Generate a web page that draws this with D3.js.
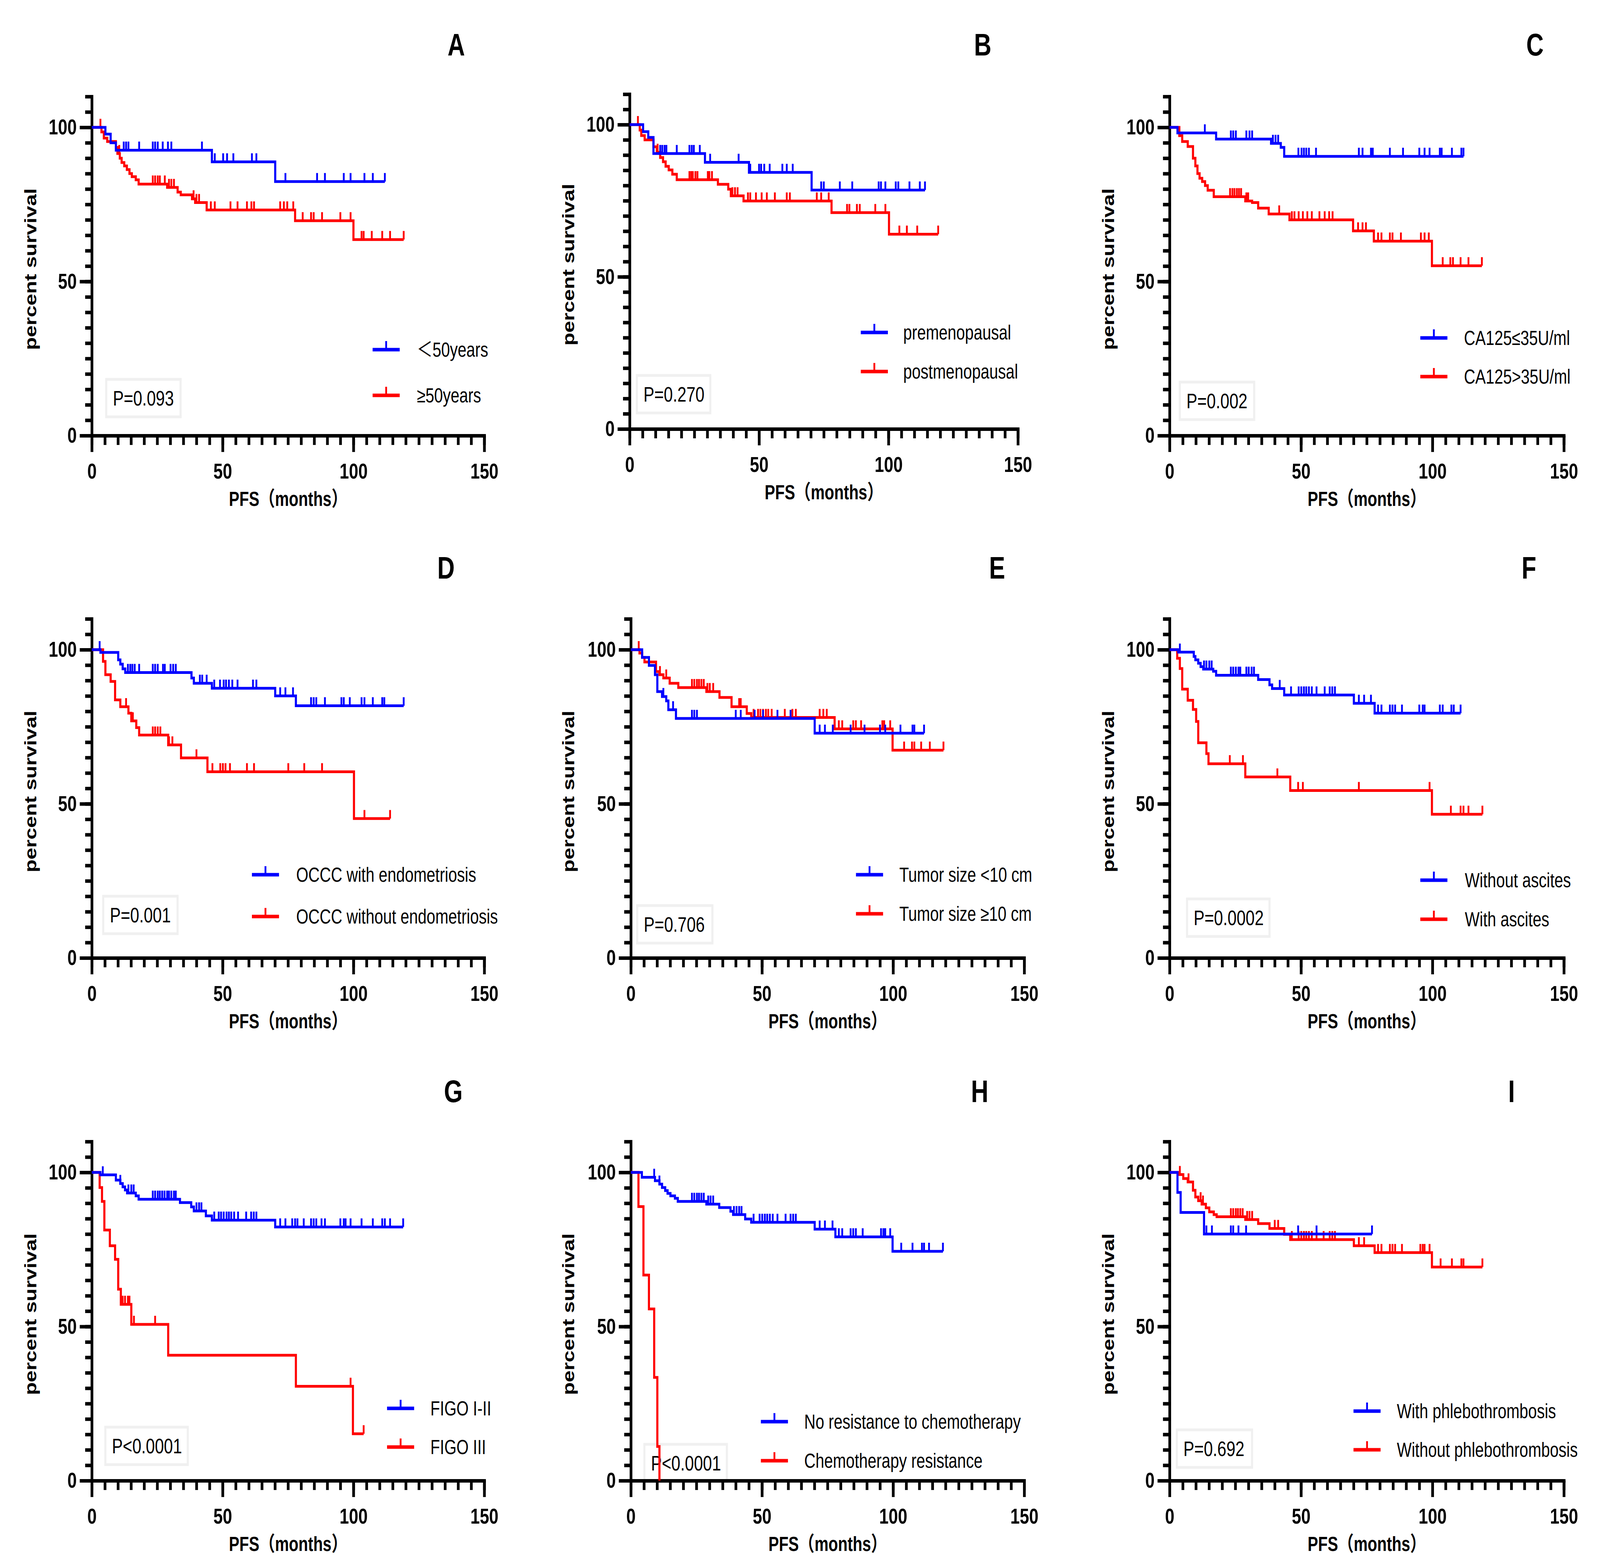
<!DOCTYPE html>
<html>
<head>
<meta charset="utf-8">
<script src="https://cdn.jsdelivr.net/npm/d3@7"></script>
<style>
  html, body { margin: 0; padding: 0; background: #fff; overflow: hidden; }
  #chart { display: block; width: 100vw; height: 100vh; }
  text { font-family: "Liberation Sans", Arial, "Noto Sans CJK SC", sans-serif; }
</style>
</head>
<body>
<svg id="chart"></svg>
<script>
// Kaplan-Meier curves: steps are [month, percent after drop]
// censors are the months of the tick marks, end is the last month drawn
const A_blueSteps = [[5.2, 97.8], [7.2, 95.0], [9.2, 92.6], [45.9, 88.8], [70.1, 82.4]];
const A_blueCens = [12.2, 13.1, 14.0, 18.1, 23.3, 24.2, 25.2, 27.1, 29.1, 30.4, 42.1, 47.0, 50.2, 51.7, 54.1, 61.2, 62.9, 74.0, 86.1, 89.1, 96.3, 98.9, 104.2, 107.4, 112.0];
const A_redSteps = [[3.7, 98.5], [4.6, 96.5], [5.9, 95.4], [9.2, 93.5], [9.8, 91.5], [10.7, 90.0], [11.4, 88.6], [12.4, 87.5], [13.4, 86.3], [14.4, 85.0], [15.3, 84.0], [16.8, 83.0], [17.9, 81.6], [28.8, 80.5], [32.8, 79.0], [34.0, 78.1], [38.3, 76.8], [39.5, 75.6], [43.9, 73.2], [77.7, 69.7], [100.0, 63.6]];
const A_redCens = [3.3, 10.5, 23.3, 24.2, 25.2, 26.0, 27.9, 29.5, 30.4, 31.4, 38.9, 40.0, 41.0, 45.5, 47.0, 53.0, 55.7, 59.3, 61.0, 62.0, 72.0, 73.4, 74.7, 77.0, 80.6, 83.8, 84.8, 88.0, 95.0, 98.9, 103.1, 103.9, 107.0, 111.0, 114.0, 119.2];

const B_blueSteps = [[5.2, 97.7], [7.2, 95.8], [9.2, 90.5], [29.1, 87.6], [46.1, 84.3], [70.3, 78.5]];
const B_blueCens = [11.8, 12.6, 13.5, 14.2, 18.2, 23.1, 24.0, 24.8, 27.1, 31.1, 42.1, 46.6, 50.0, 50.8, 52.0, 54.1, 59.0, 60.7, 63.0, 74.0, 75.0, 81.2, 86.0, 96.2, 97.1, 98.8, 102.8, 103.8, 108.1, 112.1, 114.1];
const B_redSteps = [[3.9, 98.2], [4.5, 96.4], [5.8, 95.0], [9.2, 92.7], [10.5, 90.9], [11.8, 89.2], [12.9, 87.8], [13.9, 86.3], [15.1, 85.1], [16.5, 83.7], [18.2, 81.9], [34.1, 80.4], [38.1, 78.8], [39.1, 76.6], [44.0, 74.9], [78.0, 71.1], [100.2, 64.0]];
const B_redCens = [3.2, 10.8, 23.1, 23.8, 24.4, 25.4, 26.2, 30.2, 30.8, 31.8, 39.7, 40.7, 41.7, 45.7, 46.6, 48.8, 51.0, 53.0, 56.1, 60.7, 61.9, 72.3, 74.0, 76.9, 84.0, 84.9, 87.8, 88.9, 94.9, 98.8, 104.2, 107.1, 111.1, 119.2];

const C_blueSteps = [[3.0, 98.2], [17.7, 96.2], [38.6, 94.8], [42.3, 93.5], [43.6, 90.6]];
const C_blueCens = [13.4, 23.3, 24.2, 25.2, 29.2, 30.4, 31.4, 39.3, 40.3, 41.3, 49.0, 50.2, 51.1, 52.0, 53.0, 55.7, 72.0, 73.4, 76.6, 77.3, 83.8, 88.8, 95.0, 97.0, 98.9, 102.8, 103.5, 107.4, 111.0, 111.8];
const C_redSteps = [[3.7, 97.3], [4.8, 95.4], [6.9, 93.8], [8.9, 90.0], [9.8, 87.5], [10.6, 85.0], [11.4, 83.5], [12.4, 82.4], [13.5, 81.1], [14.5, 79.6], [16.8, 77.5], [28.8, 76.1], [31.4, 75.6], [33.7, 73.8], [37.7, 71.9], [45.6, 70.0], [69.8, 66.4], [77.7, 63.1], [99.8, 55.1]];
const C_redCens = [23.0, 23.9, 24.7, 25.6, 26.4, 27.2, 29.2, 29.9, 41.7, 46.5, 47.5, 49.1, 50.7, 52.4, 54.1, 57.0, 59.0, 60.7, 62.0, 71.7, 73.4, 74.7, 79.3, 80.6, 83.8, 84.8, 88.0, 95.6, 97.0, 98.6, 103.9, 106.8, 107.8, 110.7, 113.7, 118.8];

const D_blueSteps = [[3.3, 99.1], [10.1, 96.7], [10.9, 95.3], [11.8, 93.8], [12.8, 92.6], [38.1, 90.8], [39.0, 89.1], [45.9, 87.5], [70.1, 85.0], [78.0, 81.8]];
const D_blueCens = [3.0, 13.8, 14.7, 15.5, 16.4, 18.1, 23.3, 24.2, 25.2, 27.2, 27.9, 30.1, 31.1, 32.1, 41.3, 42.2, 43.9, 46.8, 49.0, 50.4, 51.3, 52.4, 53.7, 55.7, 61.6, 62.9, 72.0, 74.0, 76.9, 83.8, 84.8, 85.8, 89.1, 95.4, 96.3, 98.6, 103.1, 104.2, 107.4, 111.0, 111.8, 119.2];
const D_redSteps = [[4.3, 96.2], [5.2, 91.9], [7.2, 89.7], [8.9, 83.7], [10.9, 81.5], [14.0, 79.4], [15.1, 76.9], [17.0, 74.7], [18.1, 72.3], [29.2, 69.1], [34.1, 64.9], [44.2, 60.4], [100.2, 45.2]];
const D_redCens = [13.1, 15.7, 23.3, 24.2, 25.2, 26.2, 29.5, 30.8, 40.0, 46.1, 49.1, 50.1, 51.1, 52.8, 59.3, 62.0, 75.1, 81.2, 88.0, 104.2, 114.0];

const E_blueSteps = [[4.3, 97.5], [6.9, 94.9], [9.2, 91.9], [10.1, 86.4], [11.9, 84.8], [13.5, 83.4], [14.3, 80.5], [17.2, 77.7], [70.1, 72.9]];
const E_blueCens = [12.4, 16.1, 23.3, 24.2, 25.2, 40.0, 41.9, 47.2, 50.4, 55.9, 60.9, 72.0, 74.0, 77.0, 83.8, 89.1, 95.0, 97.0, 102.8, 107.4, 108.1, 111.8];
const E_redSteps = [[3.3, 98.9], [4.3, 97.5], [5.2, 96.0], [9.6, 92.9], [10.9, 91.9], [12.4, 90.8], [14.8, 89.1], [18.1, 87.7], [28.8, 86.4], [33.8, 84.5], [38.4, 81.5], [44.2, 79.3], [45.9, 78.0], [77.7, 74.3], [99.8, 67.4]];
const E_redCens = [3.0, 11.1, 13.5, 23.3, 24.2, 25.2, 26.0, 26.9, 27.8, 29.2, 30.1, 31.4, 41.3, 41.9, 46.8, 48.5, 49.4, 50.4, 51.5, 52.4, 53.7, 58.7, 61.6, 62.9, 72.0, 73.4, 74.7, 79.3, 80.6, 84.8, 85.8, 87.8, 95.9, 96.6, 98.9, 104.2, 107.2, 108.1, 110.7, 114.0, 119.2];

const F_blueSteps = [[3.3, 99.2], [9.2, 97.8], [9.8, 96.7], [10.9, 95.6], [11.8, 94.5], [12.8, 93.7], [16.6, 93.0], [17.7, 91.7], [33.7, 90.3], [38.0, 88.6], [39.0, 87.4], [43.6, 85.3], [70.1, 82.6], [78.0, 79.4]];
const F_blueCens = [3.9, 13.1, 14.0, 15.1, 16.0, 23.3, 24.2, 25.2, 26.2, 26.9, 29.2, 30.1, 31.2, 32.1, 41.9, 46.2, 49.1, 50.1, 51.1, 52.0, 53.0, 54.1, 55.9, 59.0, 60.9, 61.9, 62.9, 72.0, 74.0, 76.6, 79.3, 80.6, 83.8, 84.8, 85.8, 88.4, 95.0, 96.3, 97.0, 102.8, 103.9, 107.2, 108.1, 110.7];
const F_redSteps = [[2.9, 97.2], [3.9, 93.9], [4.8, 87.2], [6.9, 83.6], [8.9, 80.6], [10.1, 76.7], [10.9, 69.8], [14.0, 66.3], [14.8, 63.0], [28.8, 58.7], [45.9, 54.3], [99.8, 46.6]];
const F_redCens = [22.9, 27.9, 41.0, 48.9, 50.7, 72.0, 98.9, 107.0, 110.7, 111.8, 113.7, 119.0];

const G_blueSteps = [[3.3, 99.2], [9.2, 97.5], [10.9, 96.4], [11.8, 95.3], [12.7, 94.3], [13.5, 93.3], [16.8, 92.4], [17.9, 91.3], [33.7, 90.2], [38.0, 88.8], [39.0, 87.5], [43.6, 85.9], [45.9, 84.5], [70.1, 82.3]];
const G_blueCens = [4.2, 10.9, 14.0, 15.1, 16.0, 23.3, 24.2, 25.2, 26.0, 26.9, 27.8, 28.8, 29.5, 30.4, 31.4, 32.1, 40.0, 41.0, 41.9, 46.8, 48.5, 49.4, 50.4, 51.5, 52.4, 53.3, 54.4, 55.9, 59.0, 60.9, 61.9, 62.9, 72.0, 74.0, 76.6, 77.7, 78.6, 81.0, 83.8, 84.8, 85.8, 87.8, 89.1, 95.0, 96.3, 97.0, 98.9, 103.1, 107.4, 111.0, 112.0, 114.0, 119.0];
const G_redSteps = [[3.0, 95.1], [3.9, 90.6], [4.8, 81.3], [6.9, 76.2], [8.9, 71.8], [10.1, 62.1], [11.1, 57.2], [15.1, 50.7], [29.2, 40.7], [78.0, 30.6], [99.8, 15.2]];
const G_redCens = [11.8, 12.7, 13.8, 14.4, 16.1, 24.2, 98.9, 103.9];

const H_blueSteps = [[4.2, 98.4], [9.2, 97.3], [10.9, 96.2], [11.9, 95.1], [13.1, 94.1], [14.0, 93.2], [15.1, 92.4], [16.8, 91.6], [17.9, 90.6], [28.8, 89.7], [33.7, 88.6], [38.0, 87.4], [39.0, 86.3], [43.6, 84.9], [45.9, 83.8], [70.1, 81.6], [78.0, 79.1], [99.8, 74.4]];
const H_blueCens = [8.9, 10.9, 23.3, 24.2, 25.2, 26.0, 26.9, 27.8, 29.5, 30.4, 31.4, 39.3, 40.3, 41.3, 42.2, 46.8, 49.1, 50.1, 51.1, 52.0, 53.0, 54.1, 55.9, 59.0, 60.9, 61.9, 62.9, 72.0, 74.0, 76.9, 79.3, 80.6, 83.8, 84.8, 85.8, 88.4, 95.4, 96.3, 97.0, 98.9, 103.1, 107.4, 111.0, 111.8, 113.7, 119.0];
const H_redSteps = [[2.9, 88.9], [4.8, 66.7], [6.9, 55.7], [8.9, 33.5], [10.1, 11.1], [10.9, 0]];
const H_redCens = [];

const I_blueSteps = [[3.0, 93.5], [4.2, 87.0], [13.1, 80.0]];
const I_blueCens = [14.0, 16.1, 23.3, 24.2, 26.2, 29.1, 48.9, 55.9, 77.0];
const I_redSteps = [[3.3, 99.3], [5.2, 98.0], [6.9, 96.9], [8.9, 94.2], [9.8, 92.0], [10.9, 90.8], [12.2, 89.7], [13.8, 88.5], [15.1, 87.2], [16.8, 86.3], [17.9, 85.6], [28.8, 84.7], [33.7, 83.4], [38.0, 81.8], [43.6, 79.9], [45.9, 78.2], [70.1, 76.2], [78.0, 74.0], [99.8, 69.3]];
const I_redCens = [3.9, 7.2, 11.8, 12.7, 23.3, 24.2, 25.2, 26.0, 26.9, 27.8, 29.5, 30.4, 31.4, 40.0, 41.3, 46.5, 49.1, 50.1, 51.1, 52.0, 53.0, 54.1, 55.9, 58.6, 60.9, 61.9, 62.9, 72.0, 74.0, 79.3, 80.6, 83.8, 84.8, 85.8, 88.4, 95.4, 96.3, 97.0, 98.9, 103.1, 107.4, 111.0, 111.8, 119.0];

const panelIds = ["A", "B", "C", "D", "E", "F", "G", "H", "I"];
const legendLabels = [
  ["＜50years", "≥50years"],
  ["premenopausal", "postmenopausal"],
  ["CA125≤35U/ml", "CA125>35U/ml"],
  ["OCCC with endometriosis", "OCCC without endometriosis"],
  ["Tumor size <10 cm", "Tumor size ≥10 cm"],
  ["Without ascites", "With ascites"],
  ["FIGO I-II", "FIGO III"],
  ["No resistance to chemotherapy", "Chemotherapy resistance"],
  ["With phlebothrombosis", "Without phlebothrombosis"]
];
const pValues = ["P=0.093", "P=0.270", "P=0.002", "P=0.001", "P=0.706", "P=0.0002", "P<0.0001", "P<0.0001", "P=0.692"];
const blueSteps = [A_blueSteps, B_blueSteps, C_blueSteps, D_blueSteps, E_blueSteps, F_blueSteps, G_blueSteps, H_blueSteps, I_blueSteps];
const blueCens = [A_blueCens, B_blueCens, C_blueCens, D_blueCens, E_blueCens, F_blueCens, G_blueCens, H_blueCens, I_blueCens];
const redSteps = [A_redSteps, B_redSteps, C_redSteps, D_redSteps, E_redSteps, F_redSteps, G_redSteps, H_redSteps, I_redSteps];
const redCens = [A_redCens, B_redCens, C_redCens, D_redCens, E_redCens, F_redCens, G_redCens, H_redCens, I_redCens];
const blueEnd = [112.0, 114.1, 111.8, 119.2, 111.8, 110.7, 119.0, 119.0, 77.0];
const redEnd = [119.2, 119.2, 118.8, 114.0, 119.2, 119.0, 103.9, 10.9, 119.0];

const xTicksMajor = [0, 50, 100, 150];
const yTicksMajor = [0, 50, 100];

// layout (pixels), one entry per panel
const layout = [
  { ox: 305,  oy: 1115, w: 1304, h: 789, ylab: 103,  title: [1516, 113],  leg: [933, -220, -103, 1080], box: [48, -144, 247] },
  { ox: 2092, oy: 1098, w: 1290, h: 779, ylab: 1890, title: [3265, 113],  leg: [768, -247, -147, 909],  box: [24, -137, 244] },
  { ox: 3886, oy: 1115, w: 1310, h: 789, ylab: 3684, title: [5100, 113],  leg: [833, -250, -151, 978],  box: [34, -137, 247] },
  { ox: 305,  oy: 2452, w: 1304, h: 789, ylab: 103,  title: [1482, 1452], leg: [532, -213, -106, 679],  box: [38, -158, 247] },
  { ox: 2096, oy: 2452, w: 1307, h: 789, ylab: 1890, title: [3313, 1452], leg: [748, -213, -113, 892],  box: [21, -134, 250] },
  { ox: 3886, oy: 2452, w: 1310, h: 789, ylab: 3684, title: [5080, 1452], leg: [833, -199, -99, 981],   box: [58, -151, 274] },
  { ox: 305,  oy: 3790, w: 1304, h: 789, ylab: 103,  title: [1506, 2792], leg: [981, -185, -86, 1125],  box: [45, -137, 274] },
  { ox: 2096, oy: 3790, w: 1307, h: 789, ylab: 1890, title: [3255, 2792], leg: [432, -151, -51, 576],   box: [45, -93, 274] },
  { ox: 3886, oy: 3790, w: 1310, h: 789, ylab: 3684, title: [5022, 2792], leg: [611, -178, -79, 755],   box: [24, -130, 250] }
];

const BLUE = "#0000ff", RED = "#ff0000";

// the drawing is made in 5316x3988 units and stretched to fill the window
const svg = d3.select("#chart")
  .attr("viewBox", "0 0 5316 3988")
  .attr("preserveAspectRatio", "none");
svg.append("rect").attr("width", 5316).attr("height", 3988).attr("fill", "#fff");

function survAt(steps, t) {
  let s = 100;
  steps.forEach((d) => { if (d[0] <= t) s = d[1]; });
  return s;
}

function drawPanel(i) {
  const L = layout[i];
  const g = svg.append("g").attr("transform", `translate(${L.ox},${L.oy})`);

  const x = d3.scaleLinear().domain([0, 150]).range([0, L.w]);
  const y = d3.scaleLinear().domain([0, 100]).range([0, -L.h]);

  // p-value box
  const bx = L.box;
  g.append("rect")
    .attr("x", bx[0]).attr("y", bx[1])
    .attr("width", bx[2]).attr("height", 96)
    .attr("fill", "#fff").attr("stroke", "#f0f0f0").attr("stroke-width", 7);
  g.append("text")
    .attr("x", bx[0] + 22).attr("y", bx[1] + 67)
    .attr("font-size", 54)
    .text(pValues[i]);

  // axes
  const minor5 = d3.range(0, 151, 5);
  const yMinor = d3.range(0, 111, 5);
  const axStyle = (sel) => {
    sel.selectAll("path").attr("stroke-width", 9).attr("stroke", "#000");
    sel.selectAll("line").attr("stroke-width", 9).attr("stroke", "#000");
  };
  g.append("g")
    .call(d3.axisBottom(x).tickValues(minor5).tickSize(24).tickSizeOuter(0).tickFormat(""))
    .call(axStyle);
  g.append("g")
    .call(d3.axisBottom(x).tickValues(xTicksMajor).tickSize(42).tickSizeOuter(0).tickPadding(28))
    .call(axStyle)
    .call((s) => s.selectAll("text").attr("font-size", 56).attr("font-weight", "bold").attr("fill", "#000"));
  g.append("g")
    .call(d3.axisLeft(y.copy().domain([0, 110]).range([0, -L.h * 1.1])).tickValues(yMinor).tickSize(22).tickSizeOuter(0).tickFormat(""))
    .call(axStyle);
  g.append("g")
    .call(d3.axisLeft(y).tickValues(yTicksMajor).tickSize(40).tickSizeOuter(0).tickPadding(10))
    .call(axStyle)
    .call((s) => s.select(".domain").remove())
    .call((s) => s.selectAll("text").attr("font-size", 56).attr("font-weight", "bold").attr("fill", "#000"));
  g.selectAll(".domain").attr("stroke-linecap", "square");

  // axis titles
  g.append("text")
    .attr("x", L.w / 2).attr("y", 180)
    .attr("text-anchor", "middle")
    .attr("font-size", 52).attr("font-weight", "bold")
    .text("PFS（months）");
  g.append("text")
    .attr("transform", `translate(${L.ylab - L.ox + 18},${-L.h * 0.54}) rotate(-90)`)
    .attr("text-anchor", "middle")
    .attr("font-size", 54).attr("font-weight", "bold")
    .text("percent survival");

  // curves
  const line = d3.line().x((d) => x(d[0])).y((d) => y(d[1])).curve(d3.curveStepAfter);
  const series = [
    { steps: blueSteps[i], cens: blueCens[i], end: blueEnd[i], color: BLUE },
    { steps: redSteps[i], cens: redCens[i], end: redEnd[i], color: RED }
  ];
  // red first, blue on top
  series.slice().reverse().forEach((s) => {
    const pts = [[0, 100]].concat(s.steps);
    const last = pts[pts.length - 1];
    if (last[0] < s.end) pts.push([s.end, last[1]]);
    g.append("path")
      .datum(pts)
      .attr("fill", "none")
      .attr("stroke", s.color)
      .attr("stroke-width", 7)
      .attr("d", line);
    g.selectAll(null)
      .data(s.cens)
      .enter()
      .append("line")
      .attr("x1", (d) => x(d)).attr("x2", (d) => x(d))
      .attr("y1", (d) => y(survAt(s.steps, d)))
      .attr("y2", (d) => y(survAt(s.steps, d)) - 22)
      .attr("stroke", s.color)
      .attr("stroke-width", 6);
  });

  // legend
  const lg = L.leg;
  [BLUE, RED].forEach((c, k) => {
    const ly = k === 0 ? lg[1] : lg[2];
    g.append("line")
      .attr("x1", lg[0]).attr("x2", lg[0] + 90)
      .attr("y1", ly).attr("y2", ly)
      .attr("stroke", c).attr("stroke-width", 9);
    g.append("line")
      .attr("x1", lg[0] + 45).attr("x2", lg[0] + 45)
      .attr("y1", ly).attr("y2", ly - 22)
      .attr("stroke", c).attr("stroke-width", 6);
    g.append("text")
      .attr("x", lg[3]).attr("y", ly + 18)
      .attr("font-size", 52)
      .text(legendLabels[i][k]);
  });

  // panel letter
  svg.append("text")
    .attr("x", L.title[0]).attr("y", L.title[1] + 29)
    .attr("text-anchor", "middle")
    .attr("font-size", 80).attr("font-weight", "bold")
    .text(panelIds[i]);
}

panelIds.forEach((id, i) => drawPanel(i));
</script>
</body>
</html>
